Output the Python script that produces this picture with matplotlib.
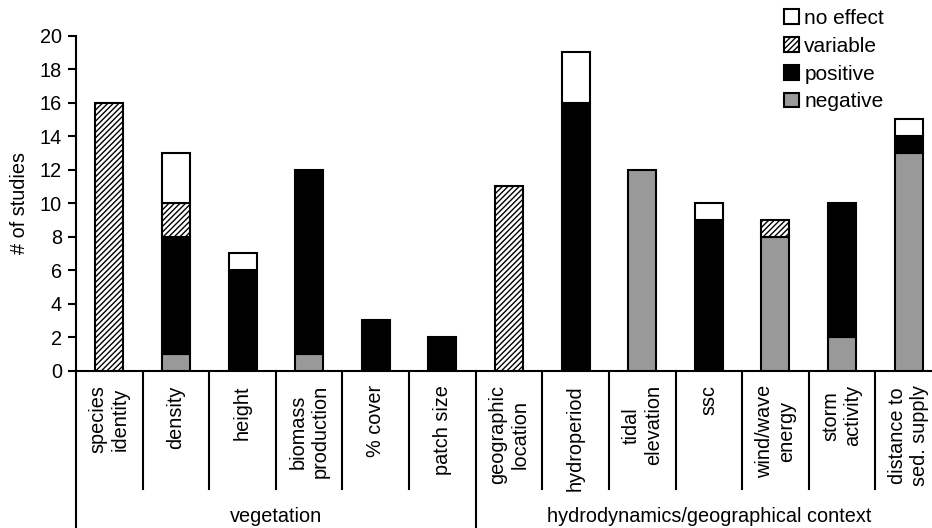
import matplotlib
matplotlib.use("Agg")
import matplotlib.pyplot as plt
import matplotlib.transforms as mtransforms
import numpy as np

plt.rcParams['font.family'] = ['Liberation Sans', 'DejaVu Sans']
plt.rcParams['hatch.linewidth'] = 1.0

# Factors and number of studies reporting each type of effect
categories = ["species\nidentity", "density", "height", "biomass\nproduction",
              "% cover", "patch size", "geographic\nlocation", "hydroperiod",
              "tidal\nelevation", "ssc", "wind/wave\nenergy", "storm\nactivity",
              "distance to\nsed. supply"]
negative = [0, 1, 0, 1, 0, 0, 0, 0, 12, 0, 8, 2, 13]
positive = [0, 7, 6, 11, 3, 2, 0, 16, 0, 9, 0, 8, 1]
variable = [16, 2, 0, 0, 0, 0, 11, 0, 0, 0, 1, 0, 0]
no_effect = [0, 3, 1, 0, 0, 0, 0, 3, 0, 1, 0, 0, 1]

groups = ["vegetation", "hydrodynamics/geographical context"]
group_sizes = [6, 7]
yticks = [0, 2, 4, 6, 8, 10, 12, 14, 16, 18, 20]

FS = 14.3
W, H = 932, 528
fig = plt.figure(figsize=(W / 100, H / 100), dpi=100)
ax_left, ax_right = 76, 942
ax_top, ax_bot = 35.7, 370.7
ax = fig.add_axes([ax_left / W, 1 - ax_bot / H, (ax_right - ax_left) / W,
                   (ax_bot - ax_top) / H])

x = np.arange(len(categories))
width = 0.42
neg = np.array(negative)
pos = np.array(positive)
var = np.array(variable)
noe = np.array(no_effect)

kw = dict(width=width, edgecolor='black', linewidth=1.5, zorder=3)
series = [
    ("negative", neg, np.zeros_like(neg), dict(color='#999999')),
    ("positive", pos, neg, dict(color='black')),
    ("variable", var, neg + pos, dict(color='white', hatch='//////')),
    ("no effect", noe, neg + pos + var, dict(color='white')),
]
handles = {}
for name, vals, bottom, style in series:
    mask = vals > 0
    b = ax.bar(x[mask], vals[mask], bottom=bottom[mask], label=name,
               **kw, **style)
    handles[name] = b

ax.set_xlim(-0.5, len(categories) - 0.5)
ax.set_ylim(0, 20)
ax.set_yticks(yticks)
ax.tick_params(axis='y', direction='out', length=6, width=1.5, pad=4,
               labelsize=FS)
ax.set_xticks([])
for s in ['top', 'right']:
    ax.spines[s].set_visible(False)
ax.spines['left'].set_linewidth(1.5)
ax.spines['bottom'].set_linewidth(1.5)

trans = mtransforms.blended_transform_factory(ax.transData, ax.transAxes)
ax_h = ax_bot - ax_top

# Category labels under the axis
for xi, lab in zip(x, categories):
    ax.text(xi, -14.5 / ax_h, lab, transform=trans, rotation=90,
            ha='center', va='top', multialignment='center', fontsize=FS)

# Separators between categories and between groups
sep_short = -(489 - ax_bot) / ax_h
sep_long = -(H - ax_bot) / ax_h
bounds = np.cumsum([0] + group_sizes)
group_edges = set(bounds[:-1].tolist())
for k in range(len(categories)):
    y1 = sep_long if k in group_edges else sep_short
    ax.plot([k - 0.5, k - 0.5], [0, y1], transform=trans, color='black',
            linewidth=1.5, clip_on=False)

# Group labels
for g, start, size in zip(groups, bounds[:-1], group_sizes):
    cx = start + size / 2 - 0.5
    ax.text(cx, -(517 - ax_bot) / ax_h, g, transform=trans, ha='center',
            va='center', fontsize=FS)

fig.text(20 / W, 1 - 203 / H, "# of studies", rotation=90, ha='center',
         va='center', fontsize=FS)

order = ["no effect", "variable", "positive", "negative"]
leg = fig.legend([handles[n] for n in order], order, loc='upper left',
                 bbox_to_anchor=(784 / W, 1 - 9 / H), frameon=False,
                 fontsize=FS + 0.7, handlelength=0.72, handleheight=0.72,
                 handletextpad=0.25, labelspacing=0.42, borderpad=0,
                 borderaxespad=0)

fig.savefig("out.png", dpi=100)
